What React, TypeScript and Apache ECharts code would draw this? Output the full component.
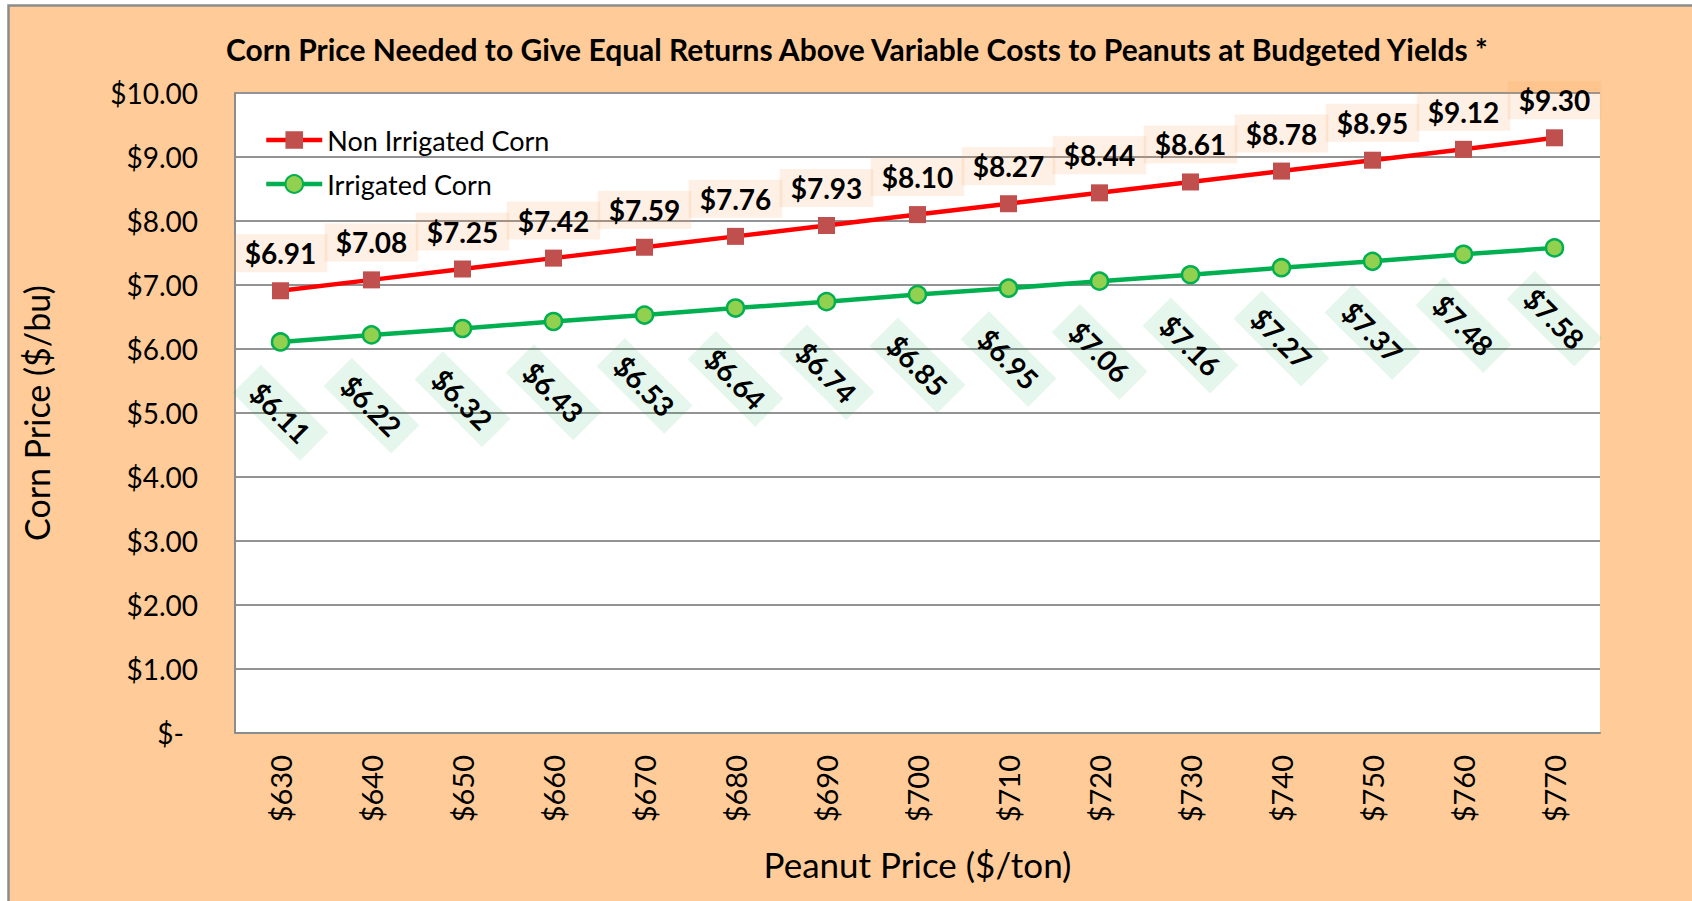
import React, { useEffect, useRef } from "react";
import * as echarts from "echarts";

const categories = ["$630", "$640", "$650", "$660", "$670", "$680", "$690", "$700", "$710", "$720", "$730", "$740", "$750", "$760", "$770"];
const nonIrrigated = [6.91, 7.08, 7.25, 7.42, 7.59, 7.76, 7.93, 8.10, 8.27, 8.44, 8.61, 8.78, 8.95, 9.12, 9.30];
const irrigated = [6.11, 6.22, 6.32, 6.43, 6.53, 6.64, 6.74, 6.85, 6.95, 7.06, 7.16, 7.27, 7.37, 7.48, 7.58];
const titleText = "Corn Price Needed to Give Equal Returns Above Variable Costs to Peanuts at Budgeted Yields *";
const yAxisName = "Corn Price ($/bu)";
const xAxisName = "Peanut Price ($/ton)";

const FONT = "Lato, 'Open Sans', sans-serif";

export default function App() {
  const ref = useRef<HTMLDivElement>(null);
  useEffect(() => {
    document.body.style.margin = "0";
    document.body.style.overflow = "hidden";
    const chart = echarts.init(ref.current!, null, { renderer: "svg" });
    chart.setOption({
      animation: false,
      backgroundColor: "#ffffff",
      textStyle: { fontFamily: FONT },
      graphic: [
        {
          type: "rect",
          z: -10,
          silent: true,
          shape: { x: 8.5, y: 5.5, width: 1700, height: 900 },
          style: { fill: "#FFCC99", stroke: "#8c8c8c", lineWidth: 2.5 },
        },
      ],
      title: {
        text: titleText,
        left: 226,
        top: 34,
        padding: 0,
        textStyle: { fontFamily: FONT, fontWeight: "bold", fontSize: 30, color: "#000" },
      },
      legend: {
        orient: "vertical",
        left: 259,
        top: 120,
        itemWidth: 56,
        itemHeight: 22,
        itemGap: 14,
        lineStyle: { width: 4.5 },
        textStyle: { fontFamily: FONT, fontSize: 27, color: "#000", lineHeight: 30 },
        data: ["Non Irrigated Corn", "Irrigated Corn"],
      },
      grid: {
        left: 235,
        top: 93,
        right: 92,
        bottom: 168,
        show: true,
        backgroundColor: "#ffffff",
        borderWidth: 0,
      },
      xAxis: {
        type: "category",
        data: categories,
        boundaryGap: true,
        name: xAxisName,
        nameLocation: "middle",
        nameGap: 113,
        nameTextStyle: { fontFamily: FONT, fontSize: 35, color: "#000" },
        axisLine: { show: true, lineStyle: { color: "#8c8c8c", width: 2 } },
        axisTick: { show: false },
        axisLabel: { rotate: 90, margin: 22, fontFamily: FONT, fontSize: 29, color: "#000" },
        splitLine: { show: false },
      },
      yAxis: {
        type: "value",
        min: 0,
        max: 10,
        interval: 1,
        name: yAxisName,
        nameLocation: "middle",
        nameGap: 182,
        nameTextStyle: { fontFamily: FONT, fontSize: 34, color: "#000" },
        axisLine: { show: true, lineStyle: { color: "#8c8c8c", width: 2 } },
        axisTick: { show: false },
        axisLabel: {
          margin: 37,
          fontFamily: FONT,
          fontSize: 28,
          color: "#000",
          formatter: (v: number) => (v === 0 ? "{z|$-}" : "$" + v.toFixed(2)),
          rich: { z: { fontFamily: FONT, fontSize: 28, color: "#000", padding: [0, 14, 0, 0] } },
        },
        splitLine: { show: true, lineStyle: { color: "#939393", width: 2 } },
      },
      series: [
        {
          name: "Non Irrigated Corn",
          type: "line",
          data: nonIrrigated,
          symbol: "rect",
          symbolSize: 17,
          lineStyle: { color: "#FF0000", width: 4.5 },
          itemStyle: { color: "#C0504D", borderWidth: 0 },
          label: {
            show: true,
            position: "top",
            distance: 29,
            align: "center",
            verticalAlign: "middle",
            fontFamily: FONT,
            fontWeight: "bold",
            fontSize: 28,
            color: "#000",
            backgroundColor: "rgba(247,150,70,0.14)",
            padding: [5, 11, 5, 11],
            formatter: (p: any) => "$" + Number(p.value).toFixed(2),
          },
          z: 3,
        },
        {
          name: "Irrigated Corn",
          type: "line",
          data: irrigated,
          symbol: "circle",
          symbolSize: 17,
          lineStyle: { color: "#00B050", width: 4.5 },
          itemStyle: { color: "#92D050", borderColor: "#00B050", borderWidth: 2.5 },
          label: {
            show: true,
            position: "bottom",
            distance: 61,
            rotate: -45,
            align: "center",
            verticalAlign: "middle",
            fontFamily: FONT,
            fontWeight: "bold",
            fontSize: 28,
            color: "#000",
            backgroundColor: "rgba(0,176,80,0.10)",
            padding: [6, 12, 6, 12],
            formatter: (p: any) => "$" + Number(p.value).toFixed(2),
          },
          z: 3,
        },
      ],
    });
    return () => chart.dispose();
  }, []);
  return <div ref={ref} style={{ width: 1692, height: 901 }} />;
}
